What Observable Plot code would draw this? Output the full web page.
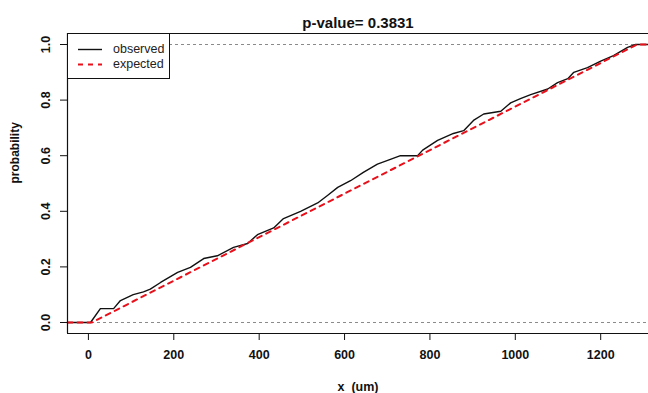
<!DOCTYPE html>
<html>
<head>
<meta charset="utf-8">
<script src="https://cdn.jsdelivr.net/npm/d3@7"></script>
<script src="https://cdn.jsdelivr.net/npm/@observablehq/plot@0.6"></script>
<style>
  html, body { margin: 0; padding: 0; background: #fff; overflow: hidden; }
  #wrap { position: relative; width: 648px; height: 393px; font-family: "Liberation Sans", Arial, sans-serif; }
  #legend { position: absolute; left: 67px; top: 33px; width: 103px; height: 46px; box-sizing: border-box;
            border: 1px solid #111; background: #fff; }
  #legend .row { position: absolute; left: 0; height: 14px; font-size: 12.5px; color: #222; }
  #legend svg { position: absolute; left: 0; top: 0; }
</style>
</head>
<body>
<div id="wrap"></div>
<script>
// ---- data ----
const titleText = "p-value= 0.3831";
const xLabel = "x  (um)";
const yLabel = "probability";
const legendLabels = ["observed", "expected"];

const xTicks = [0, 200, 400, 600, 800, 1000, 1200];
const yTicks = [0, 0.2, 0.4, 0.6, 0.8, 1.0];
const refLevels = [0, 1];

const obsX = [-49, 5, 28, 59, 75, 105, 129, 145, 169, 209, 239, 270, 302, 340, 373, 396, 434, 457, 497, 537, 560, 584, 614, 644, 677, 701, 731, 771, 783, 818, 855, 879, 902, 926, 966, 989, 1012, 1036, 1076, 1099, 1123, 1137, 1169, 1200, 1230, 1263, 1282, 1312];
const obsY = [0, 0, 0.05, 0.05, 0.079, 0.10, 0.11, 0.12, 0.144, 0.18, 0.198, 0.23, 0.24, 0.27, 0.284, 0.316, 0.34, 0.374, 0.40, 0.43, 0.457, 0.486, 0.51, 0.54, 0.57, 0.583, 0.60, 0.60, 0.62, 0.655, 0.68, 0.69, 0.727, 0.75, 0.76, 0.79, 0.805, 0.82, 0.84, 0.863, 0.877, 0.90, 0.917, 0.94, 0.96, 0.99, 1.0, 1.0];

const expX = [-49, 8, 1285, 1312];
const expY = [0, 0, 1, 1];

// ---- build tables ----
const observed = obsX.map((x, i) => ({x, y: obsY[i]}));
const expected = expX.map((x, i) => ({x, y: expY[i]}));

const xDomain = [-49, 1312];
const yDomain = [-0.0396, 1.0396];
const bold = {fontWeight: "bold", fontFamily: "Liberation Sans, Arial, sans-serif"};

const chart = Plot.plot({
  width: 648,
  height: 393,
  marginLeft: 67,
  marginRight: 0,
  marginTop: 33,
  marginBottom: 60,
  x: {domain: xDomain},
  y: {domain: yDomain},
  style: {background: "#fff", color: "#111", fontFamily: "Liberation Sans, Arial, sans-serif"},
  marks: [
    // 0/1 reference lines
    Plot.ruleY(refLevels, {stroke: "#8a8a8a", strokeDasharray: "3,3", strokeWidth: 1}),
    // observed ECDF
    Plot.line(observed, {x: "x", y: "y", stroke: "#111", strokeWidth: 1.4}),
    // expected CDF
    Plot.line(expected, {x: "x", y: "y", stroke: "#e8101a", strokeWidth: 2, strokeDasharray: "5,5"}),
    // frame (left, top, bottom)
    Plot.ruleY([yDomain[0], yDomain[1]], {stroke: "#111", strokeWidth: 1.2}),
    Plot.ruleX([xDomain[0]], {stroke: "#111", strokeWidth: 1.2}),
    // axes
    Plot.axisX({ticks: xTicks, tickSize: 7, tickPadding: 10, fontSize: 12.5, fontWeight: "bold", label: null, tickFormat: d => String(d)}),
    Plot.axisY({ticks: yTicks, tickSize: 7, tickFormat: () => "", label: null}),
    Plot.text(yTicks, {y: d => d, text: d => d.toFixed(1), frameAnchor: "left", dx: -22, rotate: -90, textAnchor: "middle", fontSize: 12.5, ...bold}),
    // titles
    Plot.text([titleText], {text: d => d, frameAnchor: "top", dy: -16, fontSize: 15, ...bold}),
    Plot.text([xLabel], {text: d => d, frameAnchor: "bottom", dy: 57, fontSize: 12.5, ...bold}),
    Plot.text([yLabel], {text: d => d, frameAnchor: "left", dx: -52, rotate: -90, fontSize: 12, ...bold})
  ]
});

const wrap = document.getElementById("wrap");
wrap.appendChild(chart);

// legend box
const lg = document.createElement("div");
lg.id = "legend";
lg.innerHTML = `
  <svg width="103" height="46">
    <line x1="10" x2="34" y1="15.5" y2="15.5" stroke="#111" stroke-width="1.4"></line>
    <line x1="10" x2="34" y1="30.5" y2="30.5" stroke="#e8101a" stroke-width="2" stroke-dasharray="5,5"></line>
  </svg>
  <div class="row" style="left:45px; top:8px;">${legendLabels[0]}</div>
  <div class="row" style="left:45px; top:23px;">${legendLabels[1]}</div>`;
wrap.appendChild(lg);
</script>
</body>
</html>
